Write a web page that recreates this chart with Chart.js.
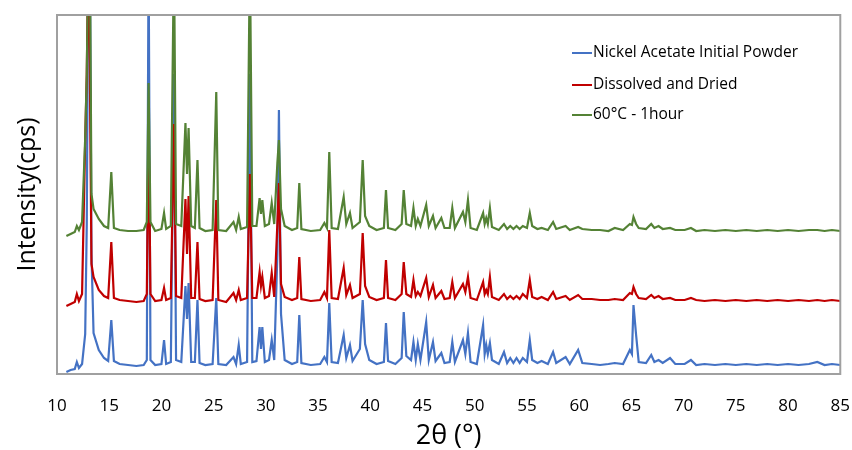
<!DOCTYPE html>
<html>
<head>
<meta charset="utf-8">
<script src="https://cdn.jsdelivr.net/npm/chart.js@4"></script>
<style>
  html, body { margin: 0; padding: 0; background: #fff; }
  #wrap { width: 852px; height: 450px; position: relative; }
</style>
</head>
<body>
<div id="wrap"><canvas id="xrd"></canvas></div>
<script>
// 2θ positions (deg) shared by the three scans
const twoTheta = [
  10.9, 11.3, 11.7, 11.9, 12.1, 12.4, 12.7, 12.85, 13.0, 13.15,
  13.3, 13.5, 14.0, 14.5, 14.9, 15.2, 15.45, 16.0, 16.8, 17.6,
  18.3, 18.6, 18.77, 18.95, 19.4, 20.0, 20.25, 20.45, 20.9, 21.2,
  21.4, 21.9, 22.3, 22.45, 22.6, 22.85, 23.2, 23.45, 23.65, 24.2,
  24.9, 25.25, 25.45, 26.2, 26.9, 27.15, 27.4, 27.6, 28.2, 28.47,
  28.7, 29.1, 29.4, 29.53, 29.66, 29.9, 30.3, 30.56, 30.8, 31.1,
  31.25, 31.45, 31.8, 32.5, 33.0, 33.2, 33.4, 34.3, 35.2, 35.6,
  35.85, 36.07, 36.3, 36.9, 37.45, 37.7, 38.05, 38.3, 39.0, 39.27,
  39.5, 39.9, 40.6, 41.3, 41.5, 41.7, 42.4, 43.0, 43.2, 43.45,
  43.9, 44.13, 44.35, 44.55, 44.8, 45.35, 45.6, 46.0, 46.25, 46.8,
  47.1, 47.6, 47.85, 48.1, 48.87, 49.1, 49.35, 49.6, 50.2, 50.8,
  50.95, 51.1, 51.25, 51.45, 51.65, 52.3, 52.8, 53.1, 53.4, 53.7,
  54.0, 54.3, 54.6, 55.0, 55.27, 55.5, 56.0, 56.4, 57.0, 57.5,
  57.8, 58.7, 59.1, 59.9, 60.3, 61.2, 62.0, 62.8, 63.4, 64.2,
  64.85, 65.05, 65.2, 65.45, 65.7, 66.4, 66.9, 67.2, 67.6, 68.0,
  68.7, 69.2, 70.1, 70.7, 71.2, 72.0, 73.0, 74.0, 75.0, 76.0,
  77.0, 78.0, 79.0, 80.0, 81.0, 82.0, 82.8, 83.5, 84.2, 85.0,
];

// intensities (cps, offset stacked as in the original plot)
const initialPowder = [
  2, 4, 5, 12, 6, 10, 40, 150, 420, 420,
  120, 41, 24, 16, 13, 54, 13, 10, 9, 8,
  9, 14, 420, 14, 9, 10, 34, 10, 12, 300,
  14, 12, 88, 55, 91, 12, 12, 74, 11, 9,
  10, 76, 10, 9, 17, 10, 29, 10, 12, 300,
  12, 13, 47, 25, 47, 12, 14, 34, 14, 120,
  264, 60, 14, 10, 12, 59, 11, 9, 10, 17,
  12, 71, 12, 11, 39, 16, 29, 13, 25, 74,
  30, 14, 10, 12, 51, 13, 10, 16, 62, 18,
  14, 32, 14, 30, 14, 52, 14, 32, 13, 21,
  11, 12, 32, 12, 34, 20, 41, 12, 10, 49,
  20, 29, 20, 31, 14, 10, 22, 11, 16, 11,
  16, 11, 16, 12, 34, 14, 11, 13, 10, 22,
  11, 17, 10, 24, 11, 10, 9, 10, 11, 10,
  24, 20, 69, 39, 12, 11, 19, 12, 14, 11,
  16, 10, 10, 14, 9, 10, 9, 10, 9, 10,
  9, 10, 9, 10, 9, 10, 12, 9, 10, 9,
];

const dissolvedDried = [
  68, 70, 72, 80, 73, 80, 234, 300, 420, 300,
  110, 97, 84, 78, 76, 132, 76, 74, 73, 72,
  73, 80, 250, 80, 73, 74, 86, 74, 76, 250,
  78, 76, 175, 120, 178, 76, 76, 132, 75, 73,
  74, 174, 74, 72, 81, 74, 84, 74, 76, 200,
  76, 76, 102, 88, 97, 76, 78, 101, 77, 150,
  191, 90, 77, 74, 76, 117, 75, 73, 74, 82,
  76, 144, 76, 75, 106, 79, 89, 76, 80, 141,
  88, 77, 74, 76, 114, 76, 74, 80, 112, 80,
  77, 94, 78, 82, 78, 96, 77, 89, 76, 83,
  75, 76, 92, 76, 90, 82, 97, 76, 74, 92,
  80, 84, 80, 97, 77, 74, 80, 75, 78, 75,
  78, 75, 80, 76, 94, 77, 75, 77, 74, 82,
  75, 78, 74, 79, 75, 75, 74, 74, 75, 74,
  81, 80, 87, 80, 76, 75, 79, 76, 78, 75,
  76, 74, 74, 76, 74, 73, 74, 73, 74, 73,
  74, 73, 74, 73, 74, 73, 74, 73, 74, 73,
];

const heated60 = [
  138, 140, 142, 148, 144, 152, 236, 300, 420, 420,
  180, 165, 155, 148, 146, 202, 146, 144, 143, 143,
  144, 152, 291, 152, 143, 145, 161, 145, 148, 420,
  150, 148, 251, 200, 246, 148, 146, 214, 146, 143,
  144, 282, 144, 143, 152, 144, 157, 145, 147, 420,
  148, 148, 176, 160, 174, 148, 150, 171, 150, 211,
  234, 165, 148, 144, 146, 191, 145, 143, 144, 151,
  146, 222, 146, 145, 177, 150, 161, 146, 152, 214,
  158, 148, 144, 146, 184, 146, 144, 150, 184, 150,
  148, 166, 148, 155, 148, 169, 148, 158, 146, 156,
  146, 146, 166, 146, 162, 152, 174, 146, 144, 161,
  150, 156, 150, 166, 147, 144, 150, 145, 148, 145,
  148, 145, 148, 146, 161, 148, 145, 146, 144, 152,
  145, 148, 144, 147, 145, 144, 144, 143, 146, 144,
  150, 149, 157, 150, 146, 145, 150, 146, 148, 145,
  146, 144, 144, 146, 143, 144, 143, 144, 143, 144,
  143, 144, 143, 144, 143, 144, 144, 143, 144, 143,
];

const seriesNames = ["Nickel Acetate Initial Powder", "Dissolved and Dried", "60°C - 1hour"];
const seriesColors = ["#4472C4", "#C00000", "#548235"];

const FONT = "'Open Sans', 'DejaVu Sans', sans-serif";

function toPoints(arr) {
  return twoTheta.map((x, i) => ({ x: x, y: arr[i] }));
}

// borde gris alrededor del área de trazado
const frame = {
  id: "frame",
  afterDatasetsDraw(chart) {
    const a = chart.chartArea;
    const ctx = chart.ctx;
    ctx.save();
    ctx.strokeStyle = "#a0a0a0";
    ctx.lineWidth = 2;
    ctx.strokeRect(a.left, a.top, a.right - a.left, a.bottom - a.top);
    ctx.restore();
  },
};

// leyenda dentro del gráfico, arriba a la derecha
const insideLegend = {
  id: "insideLegend",
  afterDraw(chart) {
    const ctx = chart.ctx;
    const rows = [53, 85, 115];
    ctx.save();
    ctx.font = "15.5px " + FONT;
    ctx.textBaseline = "middle";
    ctx.fillStyle = "#000";
    seriesNames.forEach((name, i) => {
      ctx.strokeStyle = seriesColors[i];
      ctx.lineWidth = 2;
      ctx.beginPath();
      ctx.moveTo(572, rows[i]);
      ctx.lineTo(592, rows[i]);
      ctx.stroke();
      ctx.fillText(name, 593, rows[i]);
    });
    ctx.restore();
  },
};

new Chart(document.getElementById("xrd"), {
  type: "line",
  data: {
    datasets: [
      { label: seriesNames[0], data: toPoints(initialPowder), borderColor: seriesColors[0], order: 3 },
      { label: seriesNames[1], data: toPoints(dissolvedDried), borderColor: seriesColors[1], order: 2 },
      { label: seriesNames[2], data: toPoints(heated60), borderColor: seriesColors[2], order: 1 },
    ],
  },
  options: {
    responsive: true,
    maintainAspectRatio: false,
    animation: false,
    layout: { padding: { top: 15, right: 3, left: 0, bottom: 0 } },
    elements: {
      point: { radius: 0 },
      line: { borderWidth: 2.2, tension: 0 },
    },
    plugins: {
      legend: { display: false },
      tooltip: { enabled: false },
    },
    scales: {
      x: {
        type: "linear",
        min: 10,
        max: 85,
        // marcas invisibles: sólo separan las etiquetas del eje
        grid: { display: false, drawTicks: true, tickLength: 20 },
        border: { display: false },
        ticks: {
          stepSize: 5,
          padding: 2,
          color: "#000",
          font: { family: FONT, size: 17 },
        },
        title: {
          display: true,
          text: "2θ (°)",
          color: "#000",
          font: { family: FONT, size: 27 },
          padding: { top: 0, bottom: -3 },
        },
        afterFit: (s) => { s.height = 76; },
      },
      y: {
        min: 0,
        max: 359,
        grid: { display: false, drawTicks: false },
        border: { display: false },
        ticks: { display: false },
        title: {
          display: true,
          text: "Intensity(cps)",
          color: "#000",
          font: { family: FONT, size: 25 },
          padding: { top: 13, bottom: 0 },
        },
        afterFit: (s) => { s.width = 57; },
      },
    },
  },
  plugins: [frame, insideLegend],
});
</script>
</body>
</html>
